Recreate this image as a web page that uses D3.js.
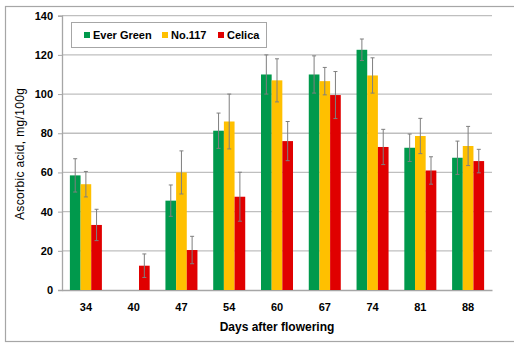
<!DOCTYPE html>
<html>
<head>
<meta charset="utf-8">
<script src="https://cdn.jsdelivr.net/npm/d3@7"></script>
<style>
  html, body { margin: 0; padding: 0; background: #fff; }
  svg { display: block; font-family: "Liberation Sans", Arial, sans-serif; }
</style>
</head>
<body>
<svg id="chart" width="514" height="345"></svg>
<script>
// Days after flowering
const days = ["34", "40", "47", "54", "60", "67", "74", "81", "88"];
const varieties = ["Ever Green", "No.117", "Celica"];
const colors = ["#00994C", "#FFC000", "#E00000"];

// Ascorbic acid (mg/100g); null = not measured
const everGreen = [58.5, null, 45.6, 81.3, 110, 110, 122.6, 72.6, 67.5];
const no117     = [54, null, 60, 86, 107, 106.6, 109.5, 78.6, 73.5];
const celica    = [33.2, 12.4, 20.4, 47.6, 76, 99.5, 73, 61, 65.8];

// Error bar half-widths (±)
const everGreenErr = [8.5, null, 8, 9, 10, 9.5, 5.5, 7, 8.5];
const no117Err     = [6.5, null, 11, 14, 11, 7, 9, 9, 10];
const celicaErr    = [8, 6, 7, 12.5, 10, 12, 9, 7, 6];

const yTicks = [0, 20, 40, 60, 80, 100, 120, 140];

const values = [everGreen, no117, celica];
const errors = [everGreenErr, no117Err, celicaErr];

const svg = d3.select("#chart");
const plot = { left: 62, right: 492, top: 15.7, bottom: 290 };

// Outer frame (its right edge runs past the page)
svg.append("rect")
  .attr("x", 5.5).attr("y", 6.5).attr("width", 520).attr("height", 335)
  .attr("fill", "#fff").attr("stroke", "#A6A6A6").attr("stroke-width", 1.2);

const x = d3.scaleBand().domain(days).range([plot.left, plot.right]).paddingInner(0.33).paddingOuter(0.165);
const xs = d3.scaleBand().domain(d3.range(varieties.length)).range([0, x.bandwidth()]);
const y = d3.scaleLinear().domain([0, 140]).range([plot.bottom, plot.top]);

// Horizontal gridlines
svg.append("g").selectAll("line").data(yTicks.filter(d => d > 0)).join("line")
  .attr("x1", plot.left).attr("x2", plot.right)
  .attr("y1", d => y(d)).attr("y2", d => y(d))
  .attr("stroke", "#BFBFBF").attr("stroke-width", 1.3);

// Y axis
const yAxis = svg.append("g").attr("transform", `translate(${plot.left},0)`)
  .call(d3.axisLeft(y).tickValues(yTicks).tickSize(4).tickPadding(5));
yAxis.select(".domain").attr("stroke", "#A6A6A6").attr("stroke-width", 1.3);
yAxis.selectAll(".tick line").attr("stroke", "#A6A6A6");
yAxis.selectAll(".tick text").attr("font-size", 11).attr("font-weight", "bold")
  .attr("fill", "#000").attr("font-family", "Liberation Sans, Arial, sans-serif");

// X axis
const xAxis = svg.append("g").attr("transform", `translate(0,${plot.bottom})`)
  .call(d3.axisBottom(x).tickSize(0).tickPadding(13));
xAxis.select(".domain").attr("stroke", "#A6A6A6").attr("stroke-width", 1.3);
xAxis.selectAll(".tick text").attr("font-size", 11).attr("font-weight", "bold")
  .attr("fill", "#000").attr("font-family", "Liberation Sans, Arial, sans-serif");

// Bars
const rows = [];
values.forEach((arr, s) => arr.forEach((v, i) => {
  if (v !== null) rows.push({ day: days[i], s, v, e: errors[s][i] });
}));

svg.append("g").selectAll("rect").data(rows).join("rect")
  .attr("x", d => x(d.day) + xs(d.s))
  .attr("y", d => y(d.v))
  .attr("width", xs.bandwidth())
  .attr("height", d => y(0) - y(d.v))
  .attr("fill", d => colors[d.s]);

// Error bars
const eb = svg.append("g").attr("stroke", "#7F7F7F").attr("stroke-width", 1);
const cx = d => x(d.day) + xs(d.s) + xs.bandwidth() / 2;
eb.selectAll("line.v").data(rows).join("line").attr("class", "v")
  .attr("x1", cx).attr("x2", cx)
  .attr("y1", d => y(d.v + d.e)).attr("y2", d => y(Math.max(0, d.v - d.e)));
eb.selectAll("line.t").data(rows).join("line").attr("class", "t")
  .attr("x1", d => cx(d) - 2).attr("x2", d => cx(d) + 2)
  .attr("y1", d => y(d.v + d.e)).attr("y2", d => y(d.v + d.e));
eb.selectAll("line.b").data(rows).join("line").attr("class", "b")
  .attr("x1", d => cx(d) - 2).attr("x2", d => cx(d) + 2)
  .attr("y1", d => y(d.v - d.e)).attr("y2", d => y(d.v - d.e));

// Legend
const legend = svg.append("g");
legend.append("rect")
  .attr("x", 71.5).attr("y", 22.5).attr("width", 195).attr("height", 25)
  .attr("fill", "#fff").attr("stroke", "#A6A6A6").attr("stroke-width", 1);
const legendX = [84, 162, 218];
varieties.forEach((name, i) => {
  legend.append("rect").attr("x", legendX[i]).attr("y", 32).attr("width", 6).attr("height", 6)
    .attr("fill", colors[i]);
  legend.append("text").attr("x", legendX[i] + 9).attr("y", 39)
    .attr("font-size", 11).attr("font-weight", "bold").attr("fill", "#000")
    .text(name);
});

// Axis titles
svg.append("text")
  .attr("transform", `translate(24,154) rotate(-90)`)
  .attr("text-anchor", "middle").attr("font-size", 12).attr("fill", "#000")
  .attr("textLength", 132).attr("lengthAdjust", "spacing")
  .text("Ascorbic acid, mg/100g");
svg.append("text")
  .attr("x", 277).attr("y", 331)
  .attr("text-anchor", "middle").attr("font-size", 12).attr("font-weight", "bold").attr("fill", "#000")
  .text("Days after flowering");
</script>
</body>
</html>
